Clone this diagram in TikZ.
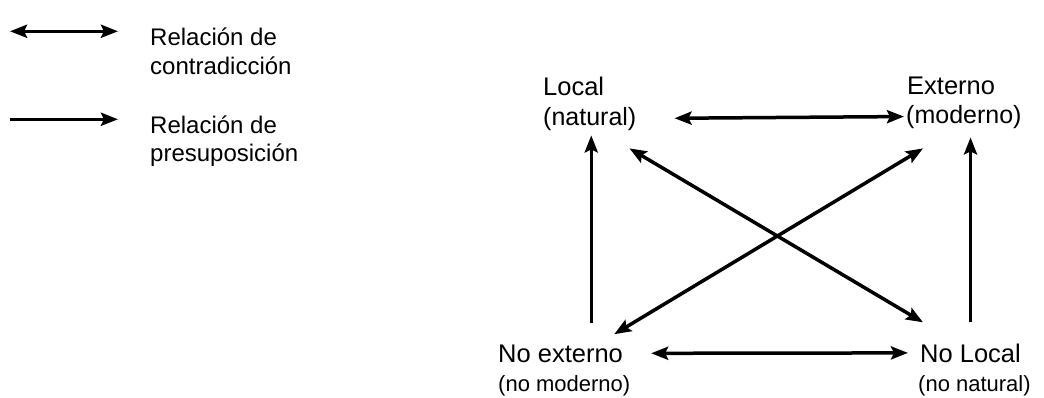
\documentclass[tikz,border=0pt]{standalone}
\usepackage{fontspec}
\setmainfont{Liberation Sans}
\usetikzlibrary{arrows.meta}

\tikzset{
	lbl/.style={inner sep=0pt, anchor=base west, font=\fontsize{25.5}{30}\selectfont},
	lblsup/.style={inner sep=0pt, anchor=base west, font=\fontsize{25}{30}\selectfont},
	lblinf/.style={inner sep=0pt, anchor=base west, font=\fontsize{22}{26}\selectfont},
	ley/.style={inner sep=0pt, anchor=base west, font=\fontsize{24}{29}\selectfont},
	punta/.tip={Stealth[length=17pt, width=13pt, inset=3pt]},
	presup/.style={line width=3.5pt, -punta},
	contra/.style={line width=3.5pt, punta-punta}
}

\begin{document}
\begin{tikzpicture}[x=1pt, y=-1pt]
	\useasboundingbox (0,0) rectangle (1044,397);

	% leyenda
	\node[ley] (leyc) at (150,45) {Relación de};
	\node[ley] (leyc2) at (150,74) {contradicción};
	\node[ley] (leyp) at (150,133) {Relación de};
	\node[ley] (leyp2) at (150,161) {presuposición};
	\draw[contra] ([xshift=-140pt, yshift=5pt]leyc.west) -- ([xshift=-32pt, yshift=5pt]leyc.west);
	\draw[presup] ([xshift=-140pt, yshift=5pt]leyp.west) -- ([xshift=-32pt, yshift=5pt]leyp.west);

	% cuadrado
	\node[lbl] (local) at (543,95) {Local};
	\node[lblsup] (localsub) at (543,125) {(natural)};
	\node[lbl] (externo) at (907,94) {Externo};
	\node[lblsup] (externosub) at (906,123) {(moderno)};
	\node[lbl] (noext) at (498,362) {No externo};
	\node[lblinf] (noextsub) at (498,391) {(no moderno)};
	\node[lbl] (noloc) at (920,362) {No Local};
	\node[lblinf] (nolocsub) at (918,391) {(no natural)};

	\draw[contra, shorten <=38pt, shorten >=2pt] (localsub.east) -- (externosub.west);
	\draw[contra, shorten <=28pt, shorten >=12pt] (noext.east) -- (noloc.west);
	\draw[presup, shorten >=5pt] ([xshift=1.5pt, yshift=21pt]noext.north -| localsub.south) -- ([xshift=1.5pt]localsub.south);
	\draw[presup, shorten >=9pt] ([yshift=21pt]noloc.north) -- (noloc.north |- externosub.south);
	\draw[contra] ([shift={(-7pt,-18pt)}]localsub.south east) -- ([shift={(3pt,21pt)}]noloc.north west);
	\draw[contra] ([shift={(-9pt,10pt)}]noext.north east) -- ([shift={(17pt,-20pt)}]externosub.south west);
\end{tikzpicture}
\end{document}
